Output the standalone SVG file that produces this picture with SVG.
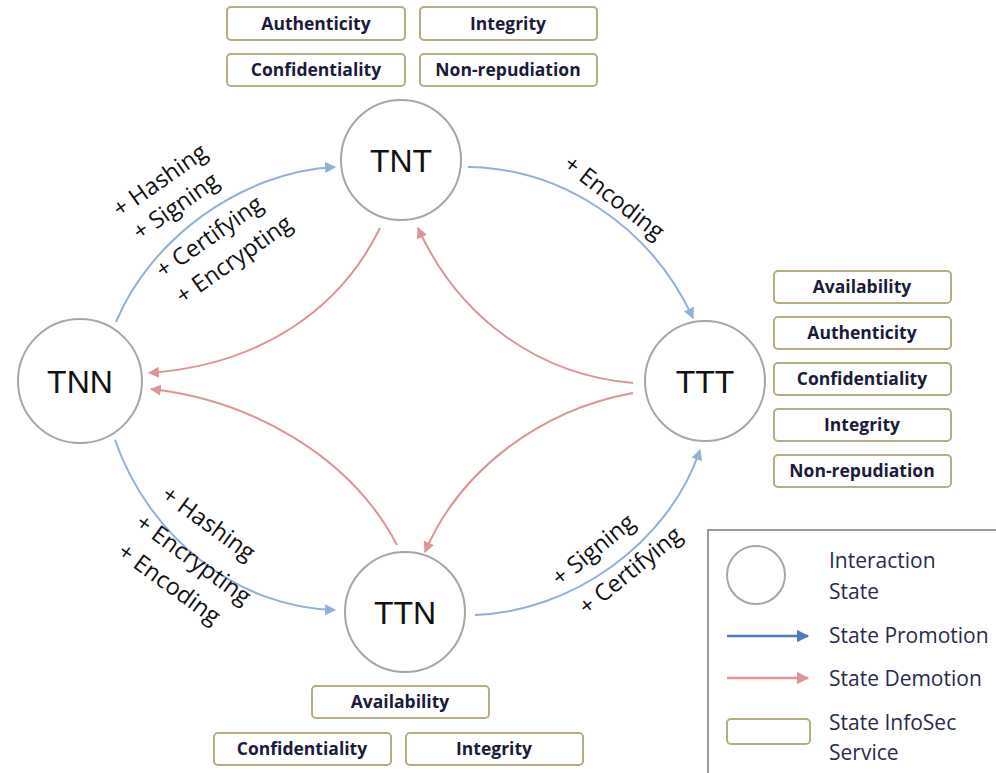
<svg xmlns="http://www.w3.org/2000/svg" width="996" height="773" viewBox="0 0 996 773">
<defs>
<marker id="ab" viewBox="0 0 10 10" refX="9" refY="5" markerWidth="5.5" markerHeight="5.5" markerUnits="strokeWidth" orient="auto"><path d="M0,0 L10,5 L0,10 z" fill="#8fb0d9"/></marker>
<marker id="ar" viewBox="0 0 10 10" refX="9" refY="5" markerWidth="5.5" markerHeight="5.5" markerUnits="strokeWidth" orient="auto"><path d="M0,0 L10,5 L0,10 z" fill="#dc9494"/></marker>
<marker id="abl" viewBox="0 0 10 10" refX="9" refY="5" markerWidth="5" markerHeight="5" markerUnits="strokeWidth" orient="auto"><path d="M0,0 L10,5 L0,10 z" fill="#4a7cc0"/></marker>
<marker id="arl" viewBox="0 0 10 10" refX="9" refY="5" markerWidth="5" markerHeight="5" markerUnits="strokeWidth" orient="auto"><path d="M0,0 L10,5 L0,10 z" fill="#dc9494"/></marker>
<filter id="sh" x="-5%" y="-5%" width="115%" height="115%"><feDropShadow dx="3" dy="3" stdDeviation="2" flood-color="#000" flood-opacity="0.35"/></filter>
</defs>
<style>
.st{fill:#fff;stroke:#a6a6a6;stroke-width:2}
.sl{font-family:"Liberation Sans",Arial,sans-serif;font-size:32px;fill:#111;text-anchor:middle}
.bx{fill:#fff;stroke:#b5ad80;stroke-width:2}
.bt{font-family:"Open Sans","Liberation Sans",sans-serif;font-weight:bold;font-size:17.5px;fill:#1a1a3a;text-anchor:middle}
.pr{fill:none;stroke:#8fb0d9;stroke-width:2;marker-end:url(#ab)}
.de{fill:none;stroke:#dc9494;stroke-width:2;marker-end:url(#ar)}
.lb{font-family:"Open Sans","Liberation Sans",sans-serif;font-size:23.5px;fill:#111}
.lg{font-family:"Open Sans","Liberation Sans",sans-serif;font-size:21px;fill:#2a2a4a}
</style>
<rect width="996" height="773" fill="#fff"/>

<g id="connectors">
<path class="pr" d="M116,322 C150,240 240,172 335,167"/>
<path class="pr" d="M468,167 C560,168 650,225 693,318"/>
<path class="pr" d="M115,440 C150,540 240,608 335,610"/>
<path class="pr" d="M475,615 C570,612 668,545 700,450"/>
<path class="de" d="M380,228 C340,310 260,365 149,373"/>
<path class="de" d="M633,383 C540,375 460,320 418,228"/>
<path class="de" d="M397,545 C350,455 250,400 151,389"/>
<path class="de" d="M633,393 C540,410 460,470 425,552"/>
</g>

<g id="labels">
<text class="lb" transform="translate(120,218) rotate(-35)">+ Hashing</text>
<text class="lb" transform="translate(140,241) rotate(-35)">+ Signing</text>
<text class="lb" transform="translate(163,279) rotate(-35)">+ Certifying</text>
<text class="lb" transform="translate(183,305) rotate(-35)">+ Encrypting</text>
<text class="lb" transform="translate(562,167) rotate(38)">+ Encoding</text>
<text class="lb" transform="translate(160,498) rotate(36)">+ Hashing</text>
<text class="lb" transform="translate(134,526) rotate(36)">+ Encrypting</text>
<text class="lb" transform="translate(116,555) rotate(36)">+ Encoding</text>
<text class="lb" transform="translate(560,587) rotate(-39)">+ Signing</text>
<text class="lb" transform="translate(587,616) rotate(-39)">+ Certifying</text>
</g>

<g id="TNT"><circle class="st" cx="401" cy="160" r="60"/><text class="sl" x="401" y="172">TNT</text></g>
<g id="TNN"><circle class="st" cx="80" cy="381" r="62"/><text class="sl" x="80" y="393">TNN</text></g>
<g id="TTT"><circle class="st" cx="705" cy="381" r="60"/><text class="sl" x="705" y="393">TTT</text></g>
<g id="TTN"><circle class="st" cx="405" cy="612" r="60"/><text class="sl" x="405" y="624">TTN</text></g>

<g id="TNT-services">
<rect class="bx" x="227" y="7" width="178" height="33" rx="4"/><text class="bt" x="316" y="30">Authenticity</text>
<rect class="bx" x="420" y="7" width="177" height="33" rx="4"/><text class="bt" x="508" y="30">Integrity</text>
<rect class="bx" x="227" y="54" width="178" height="32" rx="4"/><text class="bt" x="316" y="76">Confidentiality</text>
<rect class="bx" x="420" y="54" width="177" height="32" rx="4"/><text class="bt" x="508" y="76">Non-repudiation</text>
</g>
<g id="TTT-services">
<rect class="bx" x="774" y="271" width="177" height="32" rx="4"/><text class="bt" x="862" y="293">Availability</text>
<rect class="bx" x="774" y="317" width="177" height="32" rx="4"/><text class="bt" x="862" y="339">Authenticity</text>
<rect class="bx" x="774" y="363" width="177" height="32" rx="4"/><text class="bt" x="862" y="385">Confidentiality</text>
<rect class="bx" x="774" y="409" width="177" height="32" rx="4"/><text class="bt" x="862" y="431">Integrity</text>
<rect class="bx" x="774" y="455" width="177" height="32" rx="4"/><text class="bt" x="862" y="477">Non-repudiation</text>
</g>
<g id="TTN-services">
<rect class="bx" x="312" y="686" width="177" height="32" rx="4"/><text class="bt" x="400" y="708">Availability</text>
<rect class="bx" x="214" y="733" width="177" height="32" rx="4"/><text class="bt" x="302" y="755">Confidentiality</text>
<rect class="bx" x="406" y="733" width="177" height="32" rx="4"/><text class="bt" x="494" y="755">Integrity</text>
</g>

<g id="legend">
<rect x="708" y="530" width="300" height="250" fill="#fff" stroke="#9a9a9a" stroke-width="2" filter="url(#sh)"/>
<circle cx="756" cy="575" r="29" fill="#fff" stroke="#a6a6a6" stroke-width="2"/>
<text class="lg" x="829" y="568">Interaction</text>
<text class="lg" x="829" y="599">State</text>
<line x1="727" y1="636" x2="808" y2="636" stroke="#4a7cc0" stroke-width="2.5" marker-end="url(#abl)"/>
<text class="lg" x="829" y="643">State Promotion</text>
<line x1="727" y1="678" x2="808" y2="678" stroke="#dc9494" stroke-width="2.5" marker-end="url(#arl)"/>
<text class="lg" x="829" y="686">State Demotion</text>
<rect x="727" y="719" width="83" height="25" rx="4" fill="#fff" stroke="#b5ad80" stroke-width="2"/>
<text class="lg" x="829" y="730">State InfoSec</text>
<text class="lg" x="829" y="760">Service</text>
</g>
</svg>
